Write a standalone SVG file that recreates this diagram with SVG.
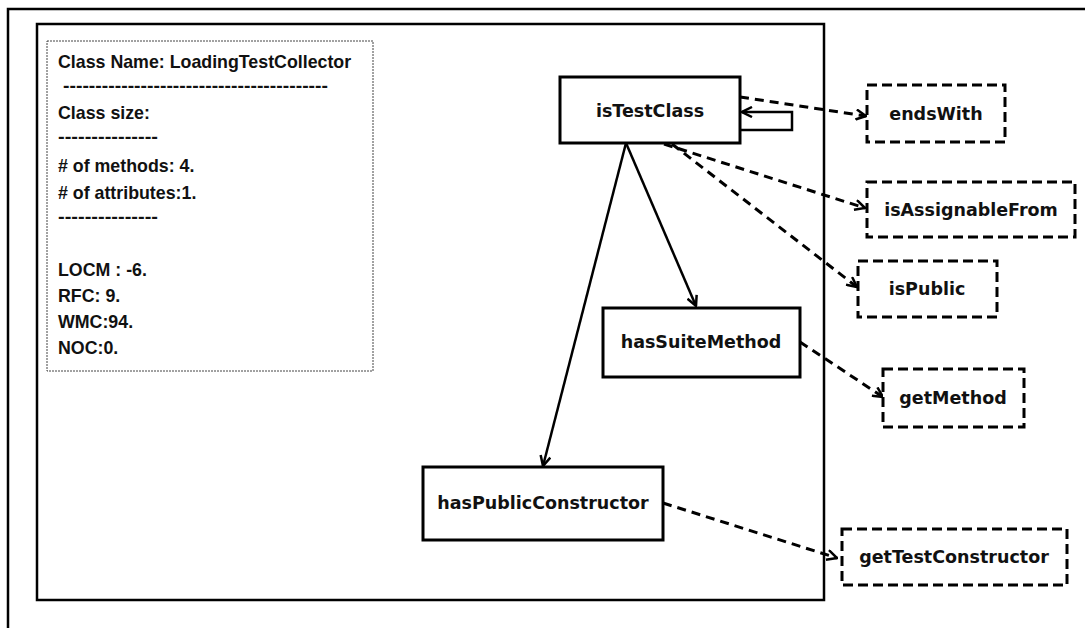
<svg xmlns="http://www.w3.org/2000/svg" width="1085" height="628" viewBox="0 0 1085 628">
<style>
.frame{fill:none;stroke:#000;stroke-width:2.5}
.node{fill:#fff;stroke:#000;stroke-width:3}
.ext{fill:#fff;stroke:#000;stroke-width:3;stroke-dasharray:10 5}
.lbl{font-family:"DejaVu Sans",sans-serif;font-weight:bold;font-size:17.5px;text-anchor:middle;fill:#111}
.info{font-family:"Liberation Sans",Arial,sans-serif;font-weight:bold;font-size:17.8px;fill:#111}
.solid{fill:none;stroke:#000;stroke-width:2.5}
.dash{fill:none;stroke:#000;stroke-width:3;stroke-dasharray:9 6}
</style>
<defs>
<marker id="arr" viewBox="0 0 12 12" refX="11" refY="6" markerWidth="12" markerHeight="12" markerUnits="userSpaceOnUse" orient="auto">
<path d="M1,1 L11,6 L1,11" fill="none" stroke="#000" stroke-width="2.5"/>
</marker>
</defs>
<rect width="1085" height="628" fill="#fff"/>
<g id="outer-frame">
<path d="M8,628 L8,9 L1085,9" class="frame" stroke-width="2"/>
<rect x="37" y="24" width="787" height="576" class="frame" stroke-width="3"/>
</g>
<g id="info">
<rect x="47" y="41" width="326" height="330" fill="none" stroke="#444" stroke-width="1" stroke-dasharray="2 1"/>
<text class="info" x="58" y="68">Class Name: LoadingTestCollector</text>
<text class="info" x="63" y="92" textLength="265" lengthAdjust="spacingAndGlyphs">-----------------------------------------</text>
<text class="info" x="58" y="119">Class size:</text>
<text class="info" x="58" y="143" textLength="100" lengthAdjust="spacingAndGlyphs">---------------</text>
<text class="info" x="58" y="172"># of methods: 4.</text>
<text class="info" x="58" y="199"># of attributes:1.</text>
<text class="info" x="58" y="223" textLength="100" lengthAdjust="spacingAndGlyphs">---------------</text>
<text class="info" x="58" y="276">LOCM : -6.</text>
<text class="info" x="58" y="302">RFC: 9.</text>
<text class="info" x="58" y="328">WMC:94.</text>
<text class="info" x="58" y="354">NOC:0.</text>
</g>
<g id="connectors">
<path class="dash" d="M740,97 L866,116" marker-end="url(#arr)"/>
<path class="dash" d="M664,144 L865,208" marker-end="url(#arr)"/>
<path class="dash" d="M672,144 L857,287" marker-end="url(#arr)"/>
<path class="solid" d="M626,143 L696,306" marker-end="url(#arr)"/>
<path class="solid" d="M626,143 L543,466" marker-end="url(#arr)"/>
<path class="solid" d="M741,130 L792,130 L792,112 L742,112" marker-end="url(#arr)"/>
<path class="dash" d="M800,342 L883,397" marker-end="url(#arr)"/>
<path class="dash" d="M663,503 L837,558" marker-end="url(#arr)"/>
</g>
<g id="isTestClass">
<rect x="560" y="77" width="180" height="66" class="node"/>
<text class="lbl" x="650" y="117">isTestClass</text>
</g>
<g id="hasSuiteMethod">
<rect x="603" y="308" width="197" height="69" class="node"/>
<text class="lbl" x="701" y="348">hasSuiteMethod</text>
</g>
<g id="hasPublicConstructor">
<rect x="423" y="467" width="240" height="73" class="node"/>
<text class="lbl" x="543" y="509">hasPublicConstructor</text>
</g>
<g id="endsWith">
<rect x="867" y="85" width="138" height="57" class="ext"/>
<text class="lbl" x="936" y="120">endsWith</text>
</g>
<g id="isAssignableFrom">
<rect x="867" y="182" width="208" height="55" class="ext"/>
<text class="lbl" x="971" y="216">isAssignableFrom</text>
</g>
<g id="isPublic">
<rect x="858" y="261" width="139" height="56" class="ext"/>
<text class="lbl" x="927" y="295">isPublic</text>
</g>
<g id="getMethod">
<rect x="883" y="369" width="141" height="58" class="ext"/>
<text class="lbl" x="953" y="404">getMethod</text>
</g>
<g id="getTestConstructor">
<rect x="842" y="529" width="225" height="56" class="ext"/>
<text class="lbl" x="954" y="563">getTestConstructor</text>
</g>
</svg>
